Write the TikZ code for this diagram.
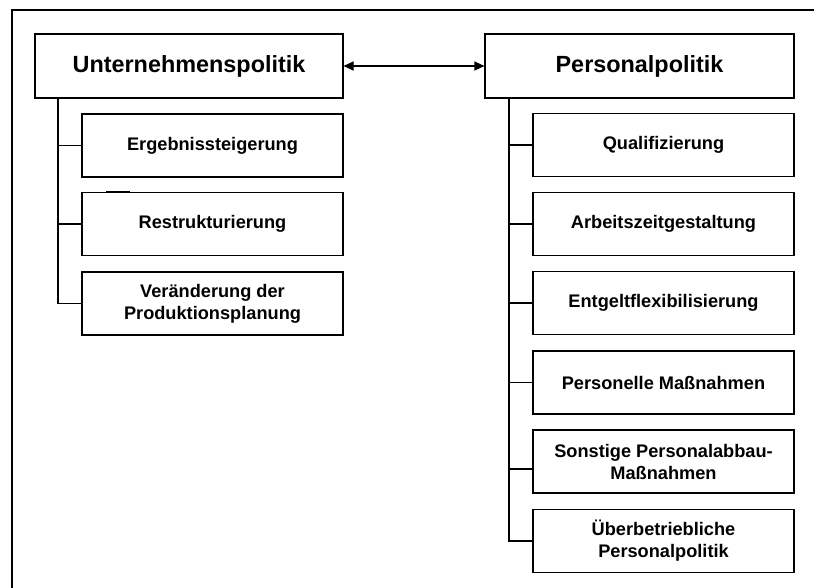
\documentclass[tikz,border=0pt]{standalone}
\usepackage{fontspec}
\setmainfont{Liberation Sans}
\usetikzlibrary{arrows.meta,calc}
\begin{document}
\begin{tikzpicture}[x=1pt,y=-1pt,
  line width=1.1pt,
  parentbox/.style={draw, line width=1.1pt, minimum width=308pt, minimum height=64pt, inner sep=0pt,
    font=\fontsize{23.4}{28}\selectfont\bfseries},
  childbox/.style={draw, line width=1.1pt, minimum width=261pt, minimum height=63pt, inner sep=0pt,
    align=center, font=\fontsize{18.2}{22}\selectfont\bfseries},
  conn/.style={draw, line width=1.1pt},
  link/.style={draw, line width=1.1pt, {Triangle[length=10pt,width=9pt]}-{Triangle[length=10pt,width=9pt]}}
]
\useasboundingbox (0,0) rectangle (814,588);
% outer frame (cropped)
\coordinate (fb) at (12,590);
\coordinate (fc) at (12,10);
\coordinate (fr) at (816,10);
\draw[line width=1.4pt] (fb) -- (fc) -- (fr);

% parents
\node[parentbox] (lp) at (189,66) {Unternehmenspolitik};
\node[parentbox, minimum width=309pt] (rp) at (639.5,66) {Personalpolitik};
\draw[link] (lp.east) -- (rp.west);

% left children
\node[childbox] (e1) at (212.5,145.5) {Ergebnissteigerung};
\node[childbox] (e2) at (212.5,224) {Restrukturierung};
\node[childbox] (e3) at (212.5,303.5) {Veränderung der\\Produktionsplanung};

% right children
\node[childbox] (r1) at (663.5,145) {Qualifizierung};
\node[childbox] (r2) at (663.5,224) {Arbeitszeitgestaltung};
\node[childbox] (r3) at (663.5,303) {Entgeltflexibilisierung};
\node[childbox] (r4) at (663.5,382.5) {Personelle Maßnahmen};
\node[childbox] (r5) at (663.5,461.5) {Sonstige Personalabbau-\\Maßnahmen};
\node[childbox] (r6) at (663.5,541) {Überbetriebliche\\Personalpolitik};

% trunks
\coordinate (tl) at (58,98);
\coordinate (tr) at (509,98);
\draw[conn] (tl) |- (e1.west);
\draw[conn] (tl) |- (e2.west);
\draw[conn] (tl) |- (e3.west);
\draw[conn] (tr) |- (r1.west);
\draw[conn] (tr) |- (r2.west);
\draw[conn] (tr) |- (r3.west);
\draw[conn] (tr) |- (r4.west);
\draw[conn] (tr) |- ([yshift=-7.5pt]r5.west);
\draw[conn] (tr) |- (r6.west);

% small darker marks on borders
\coordinate (m1a) at (90,177);
\coordinate (m1b) at (114,177);
\coordinate (m2a) at (106,192);
\coordinate (m2b) at (130,192);
\draw[line width=1.6pt] (m1a) -- (m1b);
\draw[line width=1.6pt] (m2a) -- (m2b);
\end{tikzpicture}
\end{document}
